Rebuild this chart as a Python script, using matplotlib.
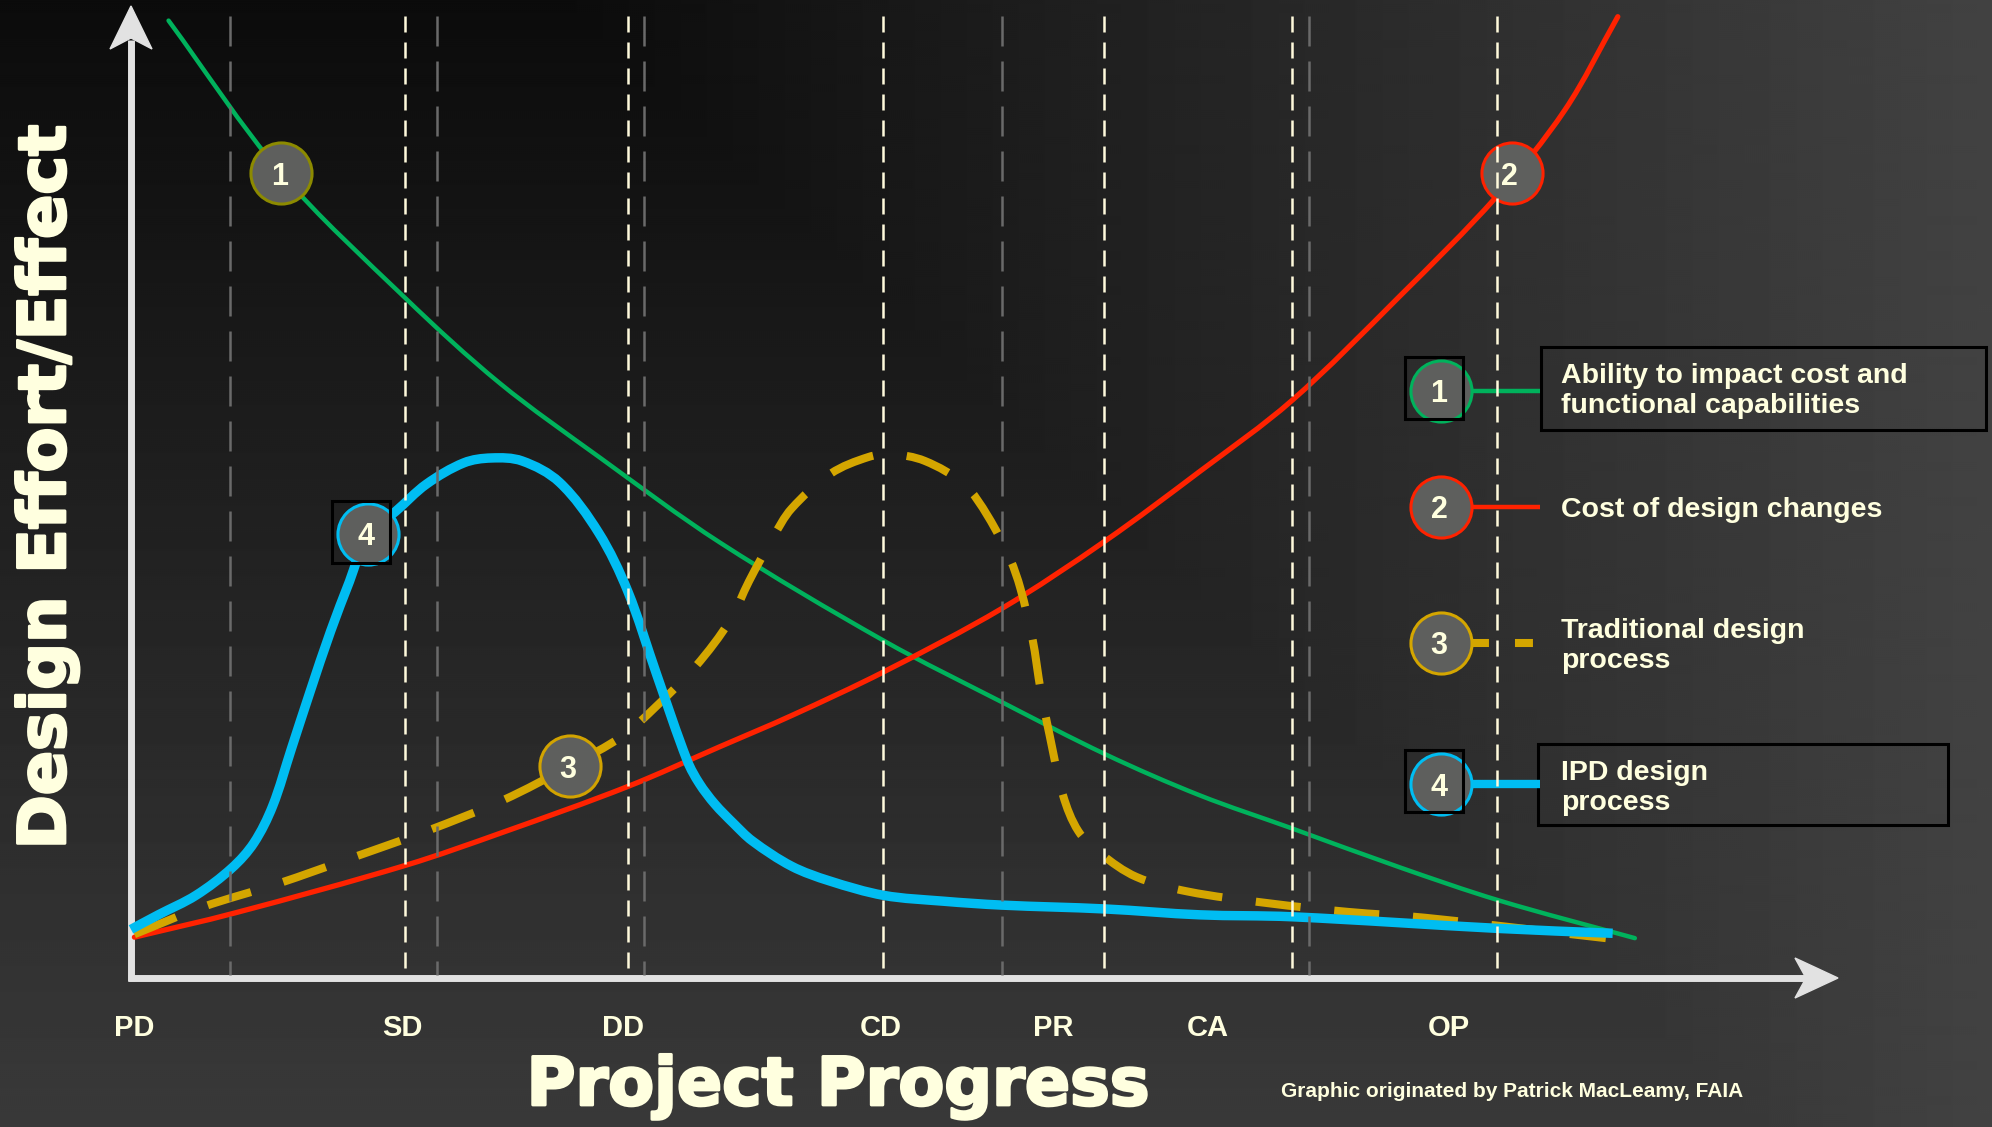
import numpy as np
import matplotlib
matplotlib.use("Agg")
import matplotlib.pyplot as plt
import matplotlib.patches as patches
import matplotlib.patheffects as pe
from matplotlib.path import Path
from matplotlib import font_manager as fm

# ---- data: x = project progress (%), y = effort / effect (%) ----
phase_labels = ["PD", "SD", "DD", "CD", "PR", "CA", "OP"]
phase_label_x = [0.2, 15.9, 28.8, 43.9, 54.0, 63.1, 77.2]
phase_lines_x = [16.05, 29.1, 44.05, 57.0, 68.0, 80.0]
minor_lines_x = [5.8, 17.9, 30.05, 51.0, 69.0]

# 1 - ability to impact cost and functional capabilities
ability_x = [2.2, 8.8, 16.1, 21.6, 27.5, 34.5, 44.1, 51.0, 57.1, 62.6, 68.0, 74.3, 80.1, 88.1]
ability_y = [98.5, 82.8, 69.9, 61.2, 53.5, 44.8, 34.7, 28.4, 23.0, 18.8, 15.4, 11.4, 8.0, 4.1]

# 2 - cost of design changes
cost_x = [0.2, 6.1, 16.1, 21.8, 29.1, 34.5, 38.7, 44.1, 51.0, 57.1, 62.6, 68.0, 74.3, 80.0, 84.0, 87.1]
cost_y = [4.2, 6.7, 11.6, 15.0, 19.7, 23.8, 27.0, 31.5, 38.0, 45.0, 52.1, 59.4, 70.1, 80.4, 89.3, 98.9]

# 3 - traditional design process
trad_x = [0.2, 4.2, 8.6, 13.0, 17.3, 21.8, 25.7, 28.8, 30.8, 33.1, 35.1, 36.2, 37.6, 38.7, 41.0,
          43.2, 44.5, 46.5, 48.8, 50.2, 51.5, 52.1, 52.8, 53.3, 53.8, 54.6, 55.5, 56.8, 58.9,
          61.9, 66.6, 71.3, 75.8, 86.4]
trad_y = [4.5, 7.3, 9.7, 12.4, 15.1, 18.3, 21.8, 24.9, 28.0, 32.1, 36.8, 40.8, 45.3, 48.3, 51.9,
          53.6, 53.9, 53.2, 50.8, 47.5, 43.1, 40.1, 35.0, 29.5, 25.1, 18.8, 15.1, 12.8, 10.4,
          8.9, 7.7, 6.8, 6.2, 4.1]

# 4 - IPD design process
ipd_x = [0.0, 1.6, 3.8, 5.9, 7.2, 8.3, 9.4, 10.5, 11.7, 12.8, 13.9, 15.5, 17.3, 19.5, 21.1,
         22.9, 25.1, 27.4, 29.1, 30.8, 32.6, 33.3, 34.2, 35.3, 36.4, 38.7, 40.9, 44.1, 47.6,
         51.0, 57.1, 62.6, 68.0, 80.1, 86.8]
ipd_y = [5.0, 6.5, 8.5, 11.3, 13.9, 17.7, 23.6, 29.5, 35.7, 40.8, 45.7, 48.0, 50.8, 53.0, 53.5,
         53.2, 51.0, 45.8, 39.8, 31.2, 22.3, 20.0, 17.9, 15.9, 14.1, 11.5, 10.0, 8.5, 7.9,
         7.5, 7.1, 6.5, 6.3, 5.1, 4.6]

marker_num = ["1", "2", "3", "4"]
marker_x = [8.8, 80.9, 25.7, 13.9]
marker_y = [82.8, 82.8, 21.8, 45.7]

legend_text = [["Ability to impact cost and", "functional capabilities"],
               ["Cost of design changes"],
               ["Traditional design", "process"],
               ["IPD design", "process"]]

# ---- style ----
W, H = 1992, 1127
cream = "#ffffdf"
axis_c = "#e2e2e2"
green, red, yellow, blue = "#00b25c", "#ff2200", "#d4a600", "#00bdf2"
disc = "#5e5f5d"
names = {f.name for f in fm.fontManager.ttflist}
narrow = "Liberation Sans Narrow" if "Liberation Sans Narrow" in names else "Liberation Sans"

ox, oy = 131, 978          # origin of the chart, pixels
sx, sy = (1838 - ox) / 100, (oy - 6) / 100   # pixels per data unit


def smooth(x, y):
    # bezier path through the points (tangent from neighbours), drawn by matplotlib
    p = np.column_stack([np.asarray(x) * sx, np.asarray(y) * sy])
    t = np.empty_like(p)
    t[1:-1] = p[2:] - p[:-2]
    t[0] = p[1] - p[0]
    t[-1] = p[-1] - p[-2]
    t /= np.linalg.norm(t, axis=1)[:, None]
    verts = [p[0]]
    codes = [Path.MOVETO]
    for i in range(len(p) - 1):
        d = np.linalg.norm(p[i + 1] - p[i]) / 3
        verts += [p[i] + t[i] * d, p[i + 1] - t[i + 1] * d, p[i + 1]]
        codes += [Path.CURVE4] * 3
    verts = np.array(verts) / [sx, sy]
    return Path(verts, codes)


fig = plt.figure(figsize=(W / 100, H / 100), dpi=100)

# background gradient
bg = fig.add_axes([0, 0, 1, 1], zorder=-2)
yy, xx = np.mgrid[0:H:2, 0:W:2]
shade = np.maximum(0.045 + 0.18 * yy / H, 0.04 + 0.22 * np.clip((xx - 530) / 1462, 0, 1))
bg.imshow(shade, cmap="gray", vmin=0, vmax=1, extent=[0, W, H, 0], aspect="auto",
          interpolation="bilinear")
bg.set_xlim(0, W)
bg.set_ylim(H, 0)
bg.axis("off")

# overlay in pixel units for axes arrows, legend and titles
ov = fig.add_axes([0, 0, 1, 1], zorder=0)
ov.set_xlim(0, W)
ov.set_ylim(H, 0)
ov.axis("off")

ov.plot([ox, ox], [oy + 3, 40], color=axis_c, lw=5, solid_capstyle="butt")
ov.add_patch(patches.Polygon([(ox, 6), (ox + 21, 49), (ox, 38), (ox - 21, 49)], color=axis_c))
ov.plot([ox - 3, 1806], [oy, oy], color=axis_c, lw=5, solid_capstyle="butt")
ov.add_patch(patches.Polygon([(1838, oy), (1795, oy - 20), (1806, oy), (1795, oy + 20)], color=axis_c))

# main chart area
ax = fig.add_axes([ox / W, (H - oy) / H, (1838 - ox) / W, (oy - 6) / H], zorder=1)
ax.set_xlim(0, 100)
ax.set_ylim(0, 100)
ax.axis("off")

ax.add_patch(patches.PathPatch(smooth(ability_x, ability_y), fill=False, ec=green, lw=3.2,
                               capstyle="round", clip_on=False, zorder=3))
ax.add_patch(patches.PathPatch(smooth(cost_x, cost_y), fill=False, ec=red, lw=3.8,
                               capstyle="round", clip_on=False, zorder=3.2))
ax.add_patch(patches.PathPatch(smooth(trad_x, trad_y), fill=False, ec=yellow, lw=5.8,
                               linestyle=(0, (5.6, 4.2)), capstyle="butt", clip_on=False,
                               zorder=3.5))
ax.add_patch(patches.PathPatch(smooth(ipd_x, ipd_y), fill=False, ec=blue, lw=6.8,
                               capstyle="butt", clip_on=False, zorder=4))

edges = ["#8c8a00", red, "#d2a300", blue]
for n, mx, my, ec in zip(marker_num, marker_x, marker_y, edges):
    ax.plot([mx], [my], "o", ms=44, mfc=disc, mec=ec, mew=2.2, zorder=6, clip_on=False)
    ax.text(mx - 0.12, my, n, ha="center", va="center_baseline", fontsize=22,
            fontweight="bold", family=narrow, color=cream, zorder=7)
ax.add_patch(patches.Rectangle((marker_x[3] - 2.1, marker_y[3] - 3.0), 3.37, 6.38,
                               fill=False, ec="black", lw=2.2, zorder=8, clip_on=False))

ax.vlines(minor_lines_x, 99.0, 0.3, colors="#6a6a6a", lw=1.8,
          linestyles=[(0, (12, 6))], zorder=9)
ax.vlines(phase_lines_x, 99.0, 0.3, colors="#fffadc", lw=1.8,
          linestyles=[(0, (6.4, 4))], zorder=9)

for lab, lx in zip(phase_labels, phase_label_x):
    ax.text(lx, -5.97, lab, ha="center", va="baseline", fontsize=21, fontweight="bold",
            family=narrow, color=cream, clip_on=False)

# legend
leg_y = [391, 507, 643, 784]
leg_cols = [green, red, yellow, blue]
leg_base = [[-8, 22], [10], [-5, 25], [-4, 26]]
cx = 1441
for i, (cy, col) in enumerate(zip(leg_y, leg_cols)):
    if i == 2:
        ov.plot([cx + 30, 1540], [cy, cy], color=col, lw=5.8, dashes=(2.23, 3.23),
                dash_capstyle="butt")
    else:
        ov.plot([cx, 1540], [cy, cy], color=col, lw=[3.2, 3.2, 0, 6.0][i],
                solid_capstyle="butt")
    ov.plot([cx], [cy], "o", ms=44, mfc=disc, mec=col, mew=2.2, zorder=3)
    ov.text(cx - 2, cy, marker_num[i], ha="center", va="center_baseline", fontsize=22,
            fontweight="bold", family=narrow, color=cream, zorder=4)
    for line, dy in zip(legend_text[i], leg_base[i]):
        ov.text(1561, cy + dy, line, ha="left", va="baseline", fontsize=20.5,
                fontweight="bold", family=narrow, color=cream)
    if i in (0, 3):
        ov.add_patch(patches.Rectangle((1405, cy - 34), 58, 62, fill=False, ec="black",
                                       lw=2.2, zorder=5))
ov.add_patch(patches.Rectangle((1541, leg_y[0] - 44), 445, 83, fill=False, ec="black", lw=2.2))
ov.add_patch(patches.Rectangle((1538, leg_y[3] - 40), 410, 81, fill=False, ec="black", lw=2.2))

# titles
stroke = [pe.withStroke(linewidth=2, foreground=cream)]
ov.text(65, 487, "Design Effort/Effect", rotation=90, rotation_mode="anchor", ha="center",
        va="baseline", fontsize=47, fontweight="bold", family="DejaVu Sans", color=cream,
        path_effects=stroke)
ov.text(838, 1105, "Project Progress", ha="center", va="baseline", fontsize=48,
        fontweight="bold", family="DejaVu Sans", color=cream, path_effects=stroke)
ov.text(1512, 1097, "Graphic originated by Patrick MacLeamy, FAIA", ha="center",
        va="baseline", fontsize=15, fontweight="bold", family=narrow, color=cream)

fig.savefig("out.png", dpi=100)
